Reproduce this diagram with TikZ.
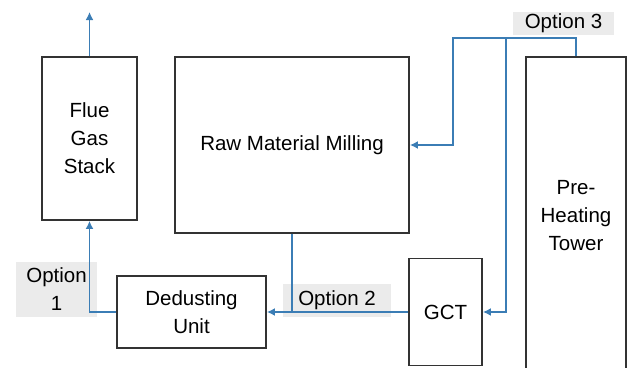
\documentclass[tikz,border=0pt]{standalone}
\usepackage{fontspec}
\setmainfont{Liberation Sans}
\usetikzlibrary{arrows.meta}

\definecolor{boxgray}{HTML}{333333}
\definecolor{flowblue}{HTML}{3B7DB5}
\definecolor{optgray}{HTML}{EBEBEB}

\tikzset{
  unit/.style={draw=boxgray, line width=1.8pt, fill=white, align=center, inner sep=0pt,
    font=\fontsize{20.5}{28}\selectfont},
  optlabel/.style={fill=optgray, align=center, inner sep=0pt,
    font=\fontsize{20.5}{28}\selectfont},
  flow/.style={draw=flowblue, line width=1.8pt},
  flowarrow/.style={flow, -{Latex[length=8pt,width=8pt]}}
}

\begin{document}
\begin{tikzpicture}[x=1pt, y=-1pt]

\useasboundingbox (0,0) rectangle (629,367);

% OPTION LABELS (behind the lines)
  \node[optlabel, minimum width=101, minimum height=23] (opt3) at (563.5, 23.5) {Option 3};
  \node[optlabel, minimum width=81,  minimum height=55] (opt1) at ( 56.5, 289.5) {Option\\1};
  \node[optlabel, minimum width=108, minimum height=33] (opt2) at (337.0, 300.5) {Option 2};

% UNITS
  \node[unit, minimum width=95,  minimum height=163] (stack)  at ( 89.5, 138.5) {Flue\\Gas\\Stack};
  \node[unit, minimum width=234, minimum height=176] (mill)   at (292.0, 145.0) {Raw Material Milling};
  \node[unit, minimum width=100, minimum height=318] (tower)  at (576.0, 216.0) {Pre-\\Heating\\Tower};
  \node[unit, minimum width=73,  minimum height=107] (gct)    at (445.5, 312.0) {GCT};
  \node[unit, minimum width=149, minimum height=72]  (dedust) at (191.5, 312.0) {Dedusting\\Unit};

% FREE ENDS AND BENDS
  \coordinate (vent)  at ( 89.5, 12);
  \coordinate (split) at (506,   38);
  \coordinate (bend)  at (453,   38);

% GAS FLOW
  \draw[flowarrow] (stack.north) -- (vent);
  \draw[flowarrow] (gct.west) -- (dedust.east);
  \draw[flow] (mill.south) -- (mill.south |- dedust.east);
  \draw[flowarrow] (dedust.west) -| (stack.south);

% Option 3 branch
  \draw[flowarrow] (tower.north) |- (bend) |- (mill.east);
  \draw[flowarrow] (split) |- (gct.east);

\end{tikzpicture}
\end{document}
